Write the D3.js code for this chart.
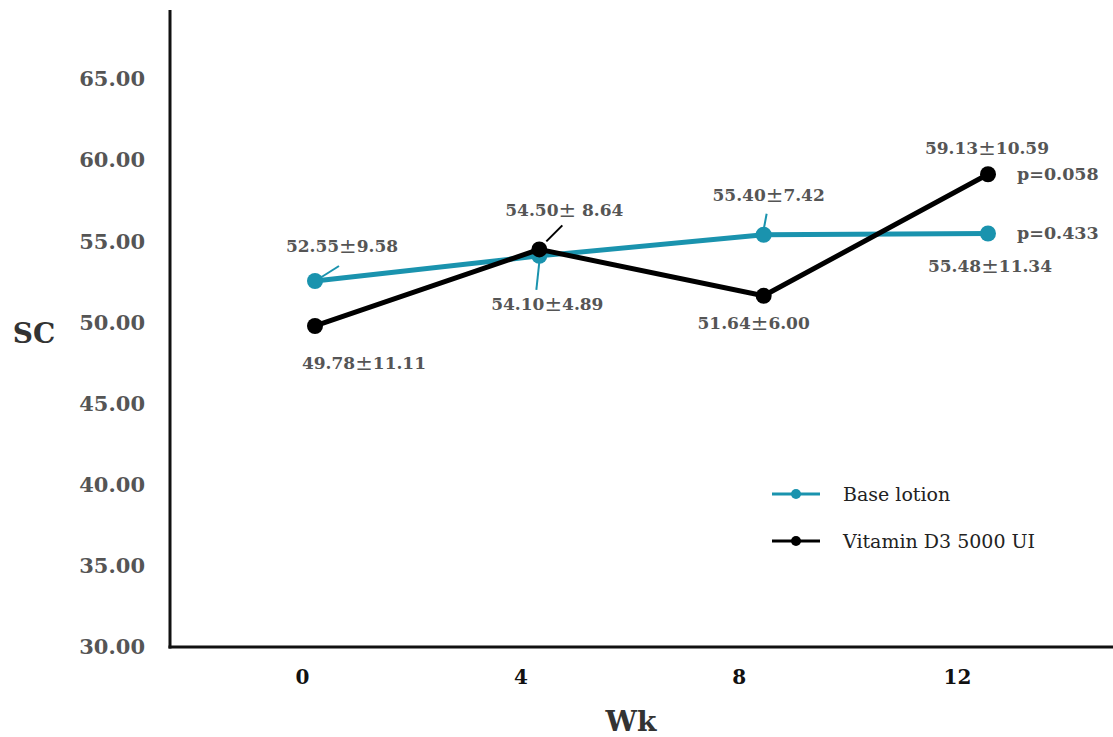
<!DOCTYPE html>
<html>
<head>
<meta charset="utf-8">
<script src="https://cdn.jsdelivr.net/npm/d3@7"></script>
<style>
    body { margin: 0; background: #fff; }
    text { font-family: "DejaVu Serif", serif; }
</style>
</head>
<body>
<div id="chart"></div>
<script>
// data
const weeks = [0, 4, 8, 12];
const baseLotion = [52.55, 54.10, 55.40, 55.48];
const vitaminD3 = [49.78, 54.50, 51.64, 59.13];
const baseLabels = ["52.55\u00b19.58", "54.10\u00b14.89", "55.40\u00b17.42", "55.48\u00b111.34"];
const vitLabels = ["49.78\u00b111.11", "54.50\u00b1 8.64", "51.64\u00b16.00", "59.13\u00b110.59"];
const pValues = ["p=0.433", "p=0.058"];
const yTicks = [30, 35, 40, 45, 50, 55, 60, 65];
const seriesNames = ["Base lotion", "Vitamin D3 5000 UI"];

const teal = "#1a93ae";
const width = 1113, height = 737;

const svg = d3.select("#chart").append("svg")
    .attr("width", width)
    .attr("height", height);

// scales
const yScale = d3.scaleLinear().domain([30, 69.25]).range([647, 10]);
const xScale = d3.scaleLinear().domain([0, 12]).range([315, 988]);
// tick labels sit a bit left of the points in the original
const xTickScale = d3.scaleLinear().domain([0, 12]).range([302, 957]);

// y axis labels
const yAxis = d3.axisLeft(yScale)
    .tickValues(yTicks)
    .tickFormat(d3.format(".2f"))
    .tickSize(0)
    .tickPadding(25);

const gy = svg.append("g")
    .attr("transform", "translate(170,0)")
    .call(yAxis);
gy.select(".domain").remove();
gy.selectAll("text")
    .attr("fill", "#555")
    .style("font-size", "21px")
    .style("font-weight", "bold");

// x axis labels
const xAxis = d3.axisBottom(xTickScale)
    .tickValues(weeks)
    .tickFormat(d3.format("d"))
    .tickSize(0)
    .tickPadding(23);

const gx = svg.append("g")
    .attr("transform", "translate(0,647)")
    .call(xAxis);
gx.select(".domain").remove();
gx.selectAll("text")
    .attr("fill", "#111")
    .style("font-size", "20px")
    .style("font-weight", "bold");

// axis lines
svg.append("line")
    .attr("x1", 170).attr("x2", 170)
    .attr("y1", 10).attr("y2", 648.5)
    .attr("stroke", "#111").attr("stroke-width", 3);
svg.append("line")
    .attr("x1", 168.5).attr("x2", width)
    .attr("y1", 647).attr("y2", 647)
    .attr("stroke", "#111").attr("stroke-width", 3);

// axis titles
svg.append("text")
    .attr("x", 34).attr("y", 333)
    .attr("text-anchor", "middle")
    .attr("dominant-baseline", "central")
    .attr("fill", "#333")
    .style("font-size", "28px").style("font-weight", "bold")
    .text("SC");
svg.append("text")
    .attr("x", 631).attr("y", 721)
    .attr("text-anchor", "middle")
    .attr("dominant-baseline", "central")
    .attr("fill", "#333")
    .style("font-size", "28px").style("font-weight", "bold")
    .text("Wk");

const line = d3.line()
    .x((d, i) => xScale(weeks[i]))
    .y(d => yScale(d));

function addSeries(values, color) {
    svg.append("path")
        .datum(values)
        .attr("fill", "none")
        .attr("stroke", color)
        .attr("stroke-width", 5)
        .attr("stroke-linejoin", "round")
        .attr("d", line);
    svg.selectAll(null)
        .data(values)
        .enter()
        .append("circle")
        .attr("cx", (d, i) => xScale(weeks[i]))
        .attr("cy", d => yScale(d))
        .attr("r", 8)
        .attr("fill", color);
}

// label offsets from each point: [dx, dy] for text centre, leader line [x1,y1,x2,y2] or null
const baseOffsets = [
    { t: [27, -35], l: [5, -3, 24, -15] },
    { t: [8, 48], l: [0, 6, -3, 34] },
    { t: [5, -40], l: [0, -5, 3, -21] },
    { t: [2, 33], l: null }
];
const vitOffsets = [
    { t: [49, 37], l: null },
    { t: [25, -39], l: [7, -8, 23, -24] },
    { t: [-10, 27], l: null },
    { t: [-1, -26], l: null }
];

// write a label with a slightly larger plus-minus sign, like the original
function writeLabel(sel, str) {
    const parts = str.split("\u00b1");
    sel.append("tspan").text(parts[0]);
    sel.append("tspan").style("font-size", "21px").style("font-weight", "normal").text("\u00b1");
    sel.append("tspan").text(parts[1]);
}

function addLabels(values, labels, offsets, color) {
    values.forEach((v, i) => {
        const px = xScale(weeks[i]), py = yScale(v), o = offsets[i];
        if (o.l) {
            svg.append("line")
                .attr("x1", px + o.l[0]).attr("y1", py + o.l[1])
                .attr("x2", px + o.l[2]).attr("y2", py + o.l[3])
                .attr("stroke", color).attr("stroke-width", 2);
        }
        const t = svg.append("text")
            .attr("x", px + o.t[0]).attr("y", py + o.t[1])
            .attr("text-anchor", "middle")
            .attr("dominant-baseline", "central")
            .attr("fill", "#555")
            .style("font-size", "17px").style("font-weight", "bold");
        writeLabel(t, labels[i]);
    });
}

addSeries(baseLotion, teal);
addSeries(vitaminD3, "#000");
addLabels(baseLotion, baseLabels, baseOffsets, teal);
addLabels(vitaminD3, vitLabels, vitOffsets, "#000");

// p values at the last point of each series
[baseLotion, vitaminD3].forEach((values, k) => {
    const last = values.length - 1;
    svg.append("text")
        .attr("x", xScale(weeks[last]) + 29)
        .attr("y", yScale(values[last]))
        .attr("dominant-baseline", "central")
        .attr("fill", "#555")
        .style("font-size", "17.5px").style("font-weight", "bold")
        .text(pValues[k]);
});

// legend
const legend = svg.append("g").attr("transform", "translate(772,494)");
[teal, "#000"].forEach((c, i) => {
    const g = legend.append("g").attr("transform", `translate(0,${i * 47})`);
    g.append("line")
        .attr("x1", 0).attr("x2", 48)
        .attr("stroke", c).attr("stroke-width", 3);
    g.append("circle")
        .attr("cx", 24).attr("r", 5).attr("fill", c);
    g.append("text")
        .attr("x", 71)
        .attr("dominant-baseline", "central")
        .attr("fill", "#222")
        .style("font-size", "19px")
        .text(seriesNames[i]);
});
</script>
</body>
</html>
